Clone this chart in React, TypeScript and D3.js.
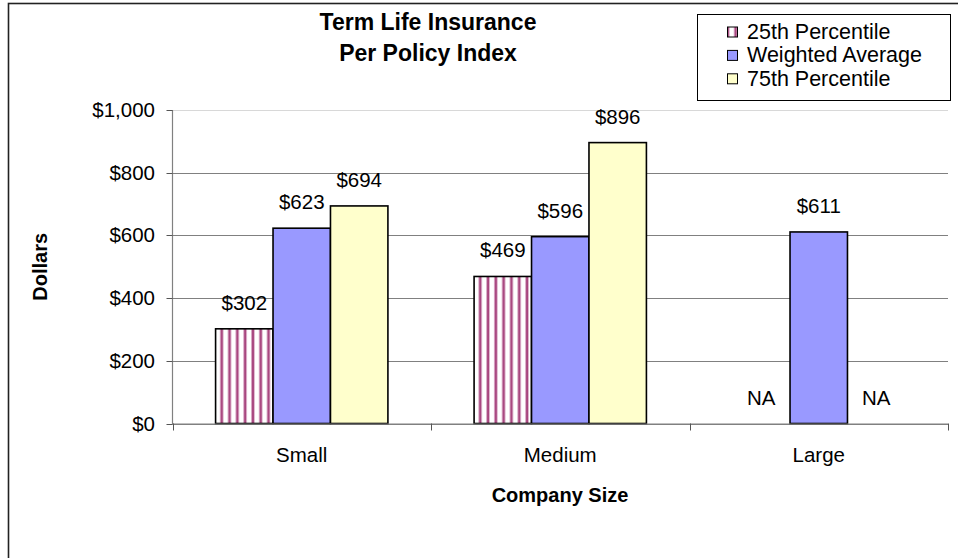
import React from "react";
import * as d3 from "d3";

const categories = ["Small", "Medium", "Large"];
const seriesNames = ["25th Percentile", "Weighted Average", "75th Percentile"];
const p25 = [302, 469, null];
const wavg = [623, 596, 611];
const p75 = [694, 896, null];
const yTicks = [0, 200, 400, 600, 800, 1000];

const W = 958;
const H = 558;
const FONT = "'Liberation Sans', Arial, sans-serif";

export default function App() {
  const plot = { left: 172.5, right: 948, top: 110, bottom: 423.5 };
  const x = d3.scaleBand<string>().domain(categories).range([plot.left, plot.right]).paddingInner(0).paddingOuter(0);
  const y = d3.scaleLinear().domain([0, 1000]).range([plot.bottom, plot.top]);
  const bw = x.bandwidth();
  const barW = bw / 4.5;
  const inner = d3.scaleBand<string>().domain(seriesNames).range([barW * 0.75, bw - barW * 0.75]).padding(0);
  const data = [p25, wavg, p75];
  const fills = ["url(#stripes)", "#9999FF", "#FFFFCC"];
  const fmt = (v: number) => "$" + d3.format(",")(v);

  return (
    <svg width={W} height={H} style={{ position: "absolute", left: 0, top: 0, background: "#fff" }} fontFamily={FONT}>
      <defs>
        <pattern id="stripes" patternUnits="userSpaceOnUse" width={7.8} height={10} x={0.5}>
          <rect width={7.8} height={10} fill="#ffffff" />
          <rect x={0} width={1} height={10} fill="#d9a9c6" />
          <rect x={1} width={2} height={10} fill="#a8467f" />
          <rect x={3} width={0.8} height={10} fill="#d9a9c6" />
        </pattern>
      </defs>
      <rect x={0} y={0} width={W} height={H} fill="#fff" />
      {/* outer frame */}
      <rect x={8.5} y={3.5} width={W + 10} height={H + 10} fill="none" stroke="#222" strokeWidth={1.6} />

      {/* gridlines */}
      {yTicks.map((t) => (
        <line key={"g" + t} x1={plot.left} x2={plot.right} y1={Math.round(y(t)) + 0.5} y2={Math.round(y(t)) + 0.5}
          stroke={t === 1000 ? "#d8d8d8" : "#808080"} strokeWidth={1} />
      ))}
      {/* y axis */}
      <line x1={plot.left} x2={plot.left} y1={y(1000)} y2={plot.bottom + 1} stroke="#808080" strokeWidth={1.2} />
      {yTicks.map((t) => (
        <g key={"t" + t}>
          <line x1={plot.left - 6} x2={plot.left} y1={Math.round(y(t)) + 0.5} y2={Math.round(y(t)) + 0.5} stroke="#555" />
          <text x={155} y={y(t) + 7} textAnchor="end" fontSize={20.5} fill="#000">{fmt(t)}</text>
        </g>
      ))}

      {/* bars */}
      {categories.map((c, ci) => (
        <g key={c} transform={`translate(${x(c)},0)`}>
          {seriesNames.map((s, si) => {
            const v = data[si][ci];
            const bx = inner(s)!;
            const cx = bx + barW / 2;
            if (v == null) {
              return (
                <text key={s} x={cx} y={y(0) - 19} textAnchor="middle" fontSize={20.5}>NA</text>
              );
            }
            return (
              <g key={s}>
                <rect x={bx} y={y(v)} width={barW} height={y(0) - y(v)} fill={fills[si]} stroke="#000" strokeWidth={1.6} />
                <text x={cx} y={y(v) - 19} textAnchor="middle" fontSize={20.5}>{fmt(v)}</text>
              </g>
            );
          })}
        </g>
      ))}

      {/* x axis */}
      <line x1={plot.left} x2={plot.right} y1={plot.bottom + 0.5} y2={plot.bottom + 0.5} stroke="#808080" strokeWidth={1.2} />
      {[...categories.map((c) => x(c)!), plot.right].map((p, i) => (
        <line key={"xt" + i} x1={Math.round(p) + 0.5} x2={Math.round(p) + 0.5} y1={plot.bottom} y2={plot.bottom + 7} stroke="#555" />
      ))}
      {categories.map((c) => (
        <text key={"cl" + c} x={x(c)! + bw / 2} y={462} textAnchor="middle" fontSize={20.5}>{c}</text>
      ))}

      {/* axis titles */}
      <text x={560} y={502} textAnchor="middle" fontSize={20} fontWeight="bold">Company Size</text>
      <text transform={`translate(47,${(plot.top + plot.bottom) / 2}) rotate(-90)`} textAnchor="middle" fontSize={20} fontWeight="bold">Dollars</text>

      {/* title */}
      <text x={428} y={30} textAnchor="middle" fontSize={23} fontWeight="bold">Term Life Insurance</text>
      <text x={428} y={61} textAnchor="middle" fontSize={23} fontWeight="bold">Per Policy Index</text>

      {/* legend */}
      <rect x={697.5} y={14.5} width={253} height={86} fill="#fff" stroke="#000" strokeWidth={1} />
      {seriesNames.map((s, i) => (
        <g key={"lg" + s} transform={`translate(0,${31.5 + i * 23.4})`}>
          <rect x={727.5} y={-4.5} width={10} height={10} fill={fills[i]} stroke="#000" strokeWidth={1} />
          <text x={747} y={7.5} fontSize={21.5}>{s}</text>
        </g>
      ))}
    </svg>
  );
}
